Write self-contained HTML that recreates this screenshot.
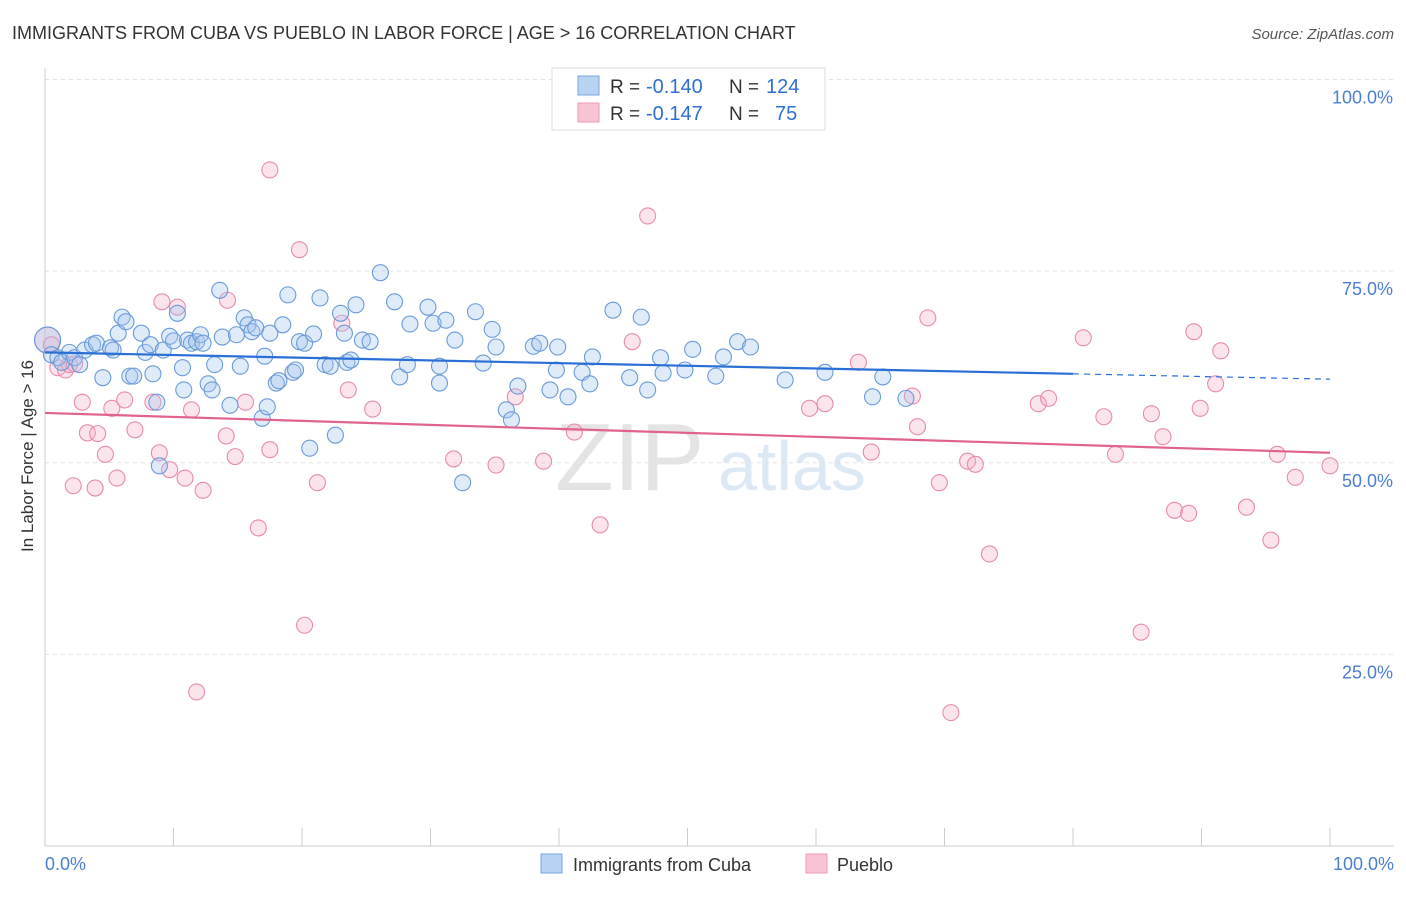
<!DOCTYPE html>
<html><head><meta charset="utf-8"><style>
body{margin:0;background:#fff;font-family:"Liberation Sans",sans-serif}
svg text{font-family:"Liberation Sans",sans-serif}
</style></head><body>
<svg id="chart" width="1406" height="892" viewBox="0 0 1406 892">
<text x="12" y="39" font-size="18" fill="#333">IMMIGRANTS FROM CUBA VS PUEBLO IN LABOR FORCE | AGE &gt; 16 CORRELATION CHART</text>
<text x="1394" y="39" font-size="15" fill="#555" text-anchor="end" font-style="italic">Source: ZipAtlas.com</text>
<g><text x="555" y="490" font-size="96" fill="#e4e4e4" font-family="Liberation Serif">ZIP</text><text x="718" y="490" font-size="70" fill="#dde8f5">atlas</text></g>
<g id="grid"></g>
<g id="axes"></g>
<g id="pts"></g>
<g id="trends"></g>
<text transform="translate(33,456) rotate(-90)" font-size="17" fill="#333" text-anchor="middle">In Labor Force | Age &gt; 16</text>
<text x="45" y="870" font-size="18" fill="#4a7fd4">0.0%</text>
<text x="1394" y="870" font-size="18" fill="#4a7fd4" text-anchor="end">100.0%</text>
<g>
<rect x="552" y="68" width="273" height="62" fill="#fff" stroke="#ddd"/>
<rect x="578" y="76" width="21" height="19" fill="#b9d3f3" stroke="#7aa6e0"/>
<rect x="578" y="103" width="21" height="19" fill="#f9c5d5" stroke="#ec9ab7"/>
<text x="610" y="93" font-size="19" fill="#333">R =</text>
<text x="646" y="93" font-size="20" fill="#2f6fd0">-0.140</text>
<text x="729" y="93" font-size="19" fill="#333">N =</text>
<text x="766" y="93" font-size="20" fill="#2f6fd0">124</text>
<text x="610" y="120" font-size="19" fill="#333">R =</text>
<text x="646" y="120" font-size="20" fill="#2f6fd0">-0.147</text>
<text x="729" y="120" font-size="19" fill="#333">N =</text>
<text x="775" y="120" font-size="20" fill="#2f6fd0">75</text>
</g>
<g>
<rect x="541" y="854" width="21" height="19" fill="#b9d3f3" stroke="#7aa6e0"/>
<text x="573" y="871" font-size="18" fill="#333">Immigrants from Cuba</text>
<rect x="806" y="854" width="21" height="19" fill="#f9c5d5" stroke="#ec9ab7"/>
<text x="837" y="871" font-size="18" fill="#333">Pueblo</text>
</g>
</svg>
<script>
const yTicks=[25,50,75,100];
const yTickLabels=["25.0%","50.0%","75.0%","100.0%"];
const xTicks=[0,10,20,30,40,50,60,70,80,90,100];
const cubaX=[0.2,0.5,1.0,1.3,1.9,2.3,2.7,3.1,3.7,4.0,4.5,5.1,5.3,5.7,6.0,6.3,6.6,6.9,7.5,7.8,8.2,8.4,8.7,8.9,9.2,9.7,10.0,10.3,10.7,10.8,11.1,11.4,11.8,12.1,12.3,12.7,13.0,13.2,13.6,13.8,14.4,14.9,15.2,15.5,15.8,16.1,16.4,16.9,17.1,17.3,17.5,18.0,18.2,18.5,18.9,19.3,19.5,19.8,20.2,20.6,20.9,21.4,21.8,22.2,22.6,23.0,23.3,23.5,23.8,24.2,24.7,25.3,26.1,27.2,27.6,28.2,28.4,29.8,30.2,30.7,30.7,31.2,31.9,32.5,33.5,34.1,34.8,35.1,35.9,36.3,36.8,38.0,38.5,39.3,39.8,39.9,40.7,41.8,42.4,42.6,44.2,45.5,46.4,46.9,47.9,48.1,49.8,50.4,52.2,52.8,53.9,54.9,57.6,60.7,64.4,65.2,67.0];
const cubaY=[66.0,64.1,63.7,63.1,64.4,63.7,62.8,64.7,65.4,65.6,61.1,65.0,64.7,66.9,69.0,68.4,61.3,61.3,66.9,64.4,65.4,61.6,57.9,49.6,64.7,66.5,65.9,69.5,62.4,59.5,66.0,65.6,65.8,66.7,65.6,60.3,59.5,62.8,72.5,66.4,57.5,66.7,62.6,68.9,68.0,67.1,67.6,55.8,63.9,57.3,66.9,60.4,60.7,68.0,71.9,61.8,62.1,65.8,65.6,51.9,66.8,71.5,62.8,62.6,53.6,69.5,66.9,63.1,63.4,70.6,66.0,65.8,74.8,71.0,61.2,62.8,68.1,70.3,68.2,62.6,60.4,68.6,66.0,47.4,69.7,63.0,67.4,65.1,56.9,55.6,60.0,65.2,65.6,59.5,62.1,65.1,58.6,61.8,60.3,63.8,69.9,61.1,69.0,59.5,63.7,61.7,62.1,64.8,61.3,63.8,65.8,65.1,60.8,61.8,58.6,61.2,58.4];
const puebloX=[0.2,0.5,1.0,1.6,1.9,2.3,2.9,3.3,4.1,2.2,3.9,4.7,5.2,5.6,6.2,7.0,8.4,8.9,9.1,9.7,10.3,10.9,11.4,12.3,14.1,14.2,14.8,15.6,16.6,17.5,17.5,19.8,20.2,21.2,23.1,23.6,25.5,11.8,31.8,35.1,36.6,38.8,41.2,43.2,45.7,46.9,59.5,60.7,63.3,64.3,67.9,67.5,68.7,69.6,71.8,72.4,73.5,77.3,78.1,80.8,82.4,83.3,85.3,86.1,87.0,87.9,89.0,89.4,89.9,91.1,91.5,93.5,95.4,95.9,97.3,100,70.5];
const puebloY=[66.0,65.4,62.4,62.1,62.8,62.9,57.9,53.9,53.8,47.0,46.7,51.1,57.1,48.0,58.2,54.3,57.9,51.3,71.0,49.1,70.3,48.0,56.9,46.4,53.5,71.2,50.8,57.9,41.5,51.7,88.2,77.8,28.8,47.4,68.2,59.5,57.0,20.1,50.5,49.7,58.6,50.2,54.0,41.9,65.8,82.2,57.1,57.7,63.1,51.4,54.7,58.7,68.9,47.4,50.2,49.8,38.1,57.7,58.4,66.3,56.0,51.1,27.9,56.4,53.4,43.8,43.4,67.1,57.1,60.3,64.6,44.2,39.9,51.1,48.1,49.6,17.4];
const cubaTrend=[64.4,60.9];
const puebloTrend=[56.5,51.3];
const X0=45,X1=1330,Y0=846,Y100=79.5;
const sx=v=>X0+(X1-X0)*v/100, sy=v=>Y0-(Y0-Y100)*v/100;
const NS="http://www.w3.org/2000/svg";
function mk(tag,parent,attrs){const e=document.createElementNS(NS,tag);for(const k in attrs)e.setAttribute(k,attrs[k]);document.getElementById(parent).appendChild(e);return e;}
yTicks.forEach((t,i)=>{
 const l=mk('line','grid',{x1:X0,x2:1394,y1:sy(t),y2:sy(t),stroke:'#e2e2e2','stroke-dasharray':'4,4'});
 
 
 const tx=mk('text','grid',{x:1393,y:sy(t)+24,'font-size':18,fill:'#4a7fd4','text-anchor':'end'});
 tx.textContent=yTickLabels[i];
 
 
});
mk('line','axes',{x1:X0,x2:X0,y1:68,y2:Y0,stroke:'#ccc'});
mk('line','axes',{x1:X0,x2:1394,y1:Y0,y2:Y0,stroke:'#ccc'});
xTicks.forEach(t=>{
 const l=mk('line','axes',{x1:sx(t),x2:sx(t),y1:828,y2:Y0,stroke:'#ccc'});
 
 
});
function dots(xs,ys,fill,stroke,name){
 xs.forEach((x,i)=>{
  const c=mk('circle','pts',{cx:sx(x),cy:sy(ys[i]),r:i===0?13:8,fill:fill,'fill-opacity':0.35,stroke:stroke,'stroke-width':1.1});
  
  
 });
}
dots(puebloX,puebloY,'#f4b3c8','#e88aae','pueblo-point');
dots(cubaX,cubaY,'#a6c6ee','#6a9ad9','cuba-point');
const cb=t=>cubaTrend[0]+(cubaTrend[1]-cubaTrend[0])*t/100;
let l1=mk('line','trends',{x1:sx(0),y1:sy(cb(0)),x2:sx(80),y2:sy(cb(80)),stroke:'#2a6fd6','stroke-width':2.2});


let l2=mk('line','trends',{x1:sx(80),y1:sy(cb(80)),x2:sx(100),y2:sy(cb(100)),stroke:'#2a6fd6','stroke-width':1.2,'stroke-dasharray':'6,5'});


let l3=mk('line','trends',{x1:sx(0),y1:sy(puebloTrend[0]),x2:sx(100),y2:sy(puebloTrend[1]),stroke:'#e0628e','stroke-width':2.2});


</script>
</body></html>
